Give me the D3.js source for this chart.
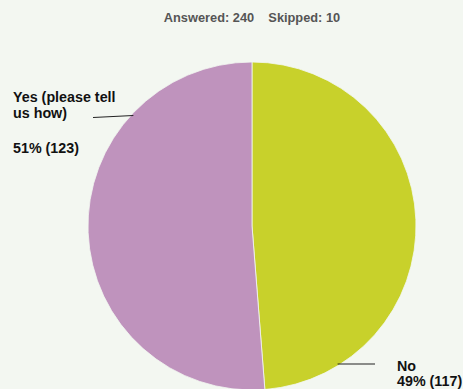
<!DOCTYPE html>
<html>
<head>
<meta charset="utf-8">
<script src="https://cdn.jsdelivr.net/npm/d3@7/dist/d3.min.js"></script>
<style>
  html, body { margin: 0; padding: 0; background: #f3f7f1; }
  svg { display: block; }
  text { font-family: "Liberation Sans", Arial, sans-serif; font-weight: bold; }
</style>
</head>
<body>
<svg id="chart" width="463" height="389"></svg>
<script>
// Survey answers, clockwise from 12 o'clock
const categories = ["No", "Yes (please tell us how)"];
const counts = [117, 123];
const percents = ["49%", "51%"];
const colors = ["#c8d12b", "#bf93bd"];
const answered = 240;
const skipped = 10;

const svg = d3.select("#chart");
const W = 463, H = 389;
const cx = 252, cy = 226, R = 164;

svg.append("rect").attr("width", W).attr("height", H).attr("fill", "#f3f7f1");

// Response summary
svg.append("text")
  .attr("x", 252).attr("y", 22)
  .attr("text-anchor", "middle")
  .attr("font-size", 12.8)
  .attr("fill", "#555")
  .attr("xml:space", "preserve")
  .text(`Answered: ${answered}    Skipped: ${skipped}`);

const data = categories.map((c, i) => ({ name: c, value: counts[i], pct: percents[i], color: colors[i] }));

const pie = d3.pie().value(d => d.value).sort(null);
const arc = d3.arc().innerRadius(0).outerRadius(R);
const arcs = pie(data);

const g = svg.append("g").attr("transform", `translate(${cx},${cy})`);
g.selectAll("path")
  .data(arcs)
  .join("path")
  .attr("d", arc)
  .attr("fill", d => d.data.color)
  .attr("stroke", "#f3f7f1")
  .attr("stroke-width", 0.8);

// Horizontal leader line from a label to the pie rim at height y
function rimX(y, side) {
  const dy = y - cy;
  return cx + side * Math.sqrt(R * R - dy * dy);
}

// "No" slice label (bottom right)
const noY = 364;
svg.append("line")
  .attr("x1", rimX(noY, 1) - 3).attr("y1", noY)
  .attr("x2", 375).attr("y2", noY)
  .attr("stroke", "#222").attr("stroke-width", 1.2);
const noText = svg.append("text").attr("font-size", 14.3).attr("fill", "#111");
noText.append("tspan").attr("x", 397).attr("y", 371).text(data[0].name);
noText.append("tspan").attr("x", 397).attr("y", 386).text(`${data[0].pct} (${data[0].value})`);

// "Yes" slice label (top left)
const yesY = 116;
svg.append("line")
  .attr("x1", 93).attr("y1", yesY + 1.5)
  .attr("x2", rimX(yesY, -1) + 3).attr("y2", yesY - 0.5)
  .attr("stroke", "#222").attr("stroke-width", 1.2);
const yesText = svg.append("text").attr("font-size", 14.3).attr("fill", "#111");
yesText.append("tspan").attr("x", 13).attr("y", 102).text("Yes (please tell");
yesText.append("tspan").attr("x", 13).attr("y", 118).text("us how)");
yesText.append("tspan").attr("x", 13).attr("y", 153).text(`${data[1].pct} (${data[1].value})`);
</script>
</body>
</html>
